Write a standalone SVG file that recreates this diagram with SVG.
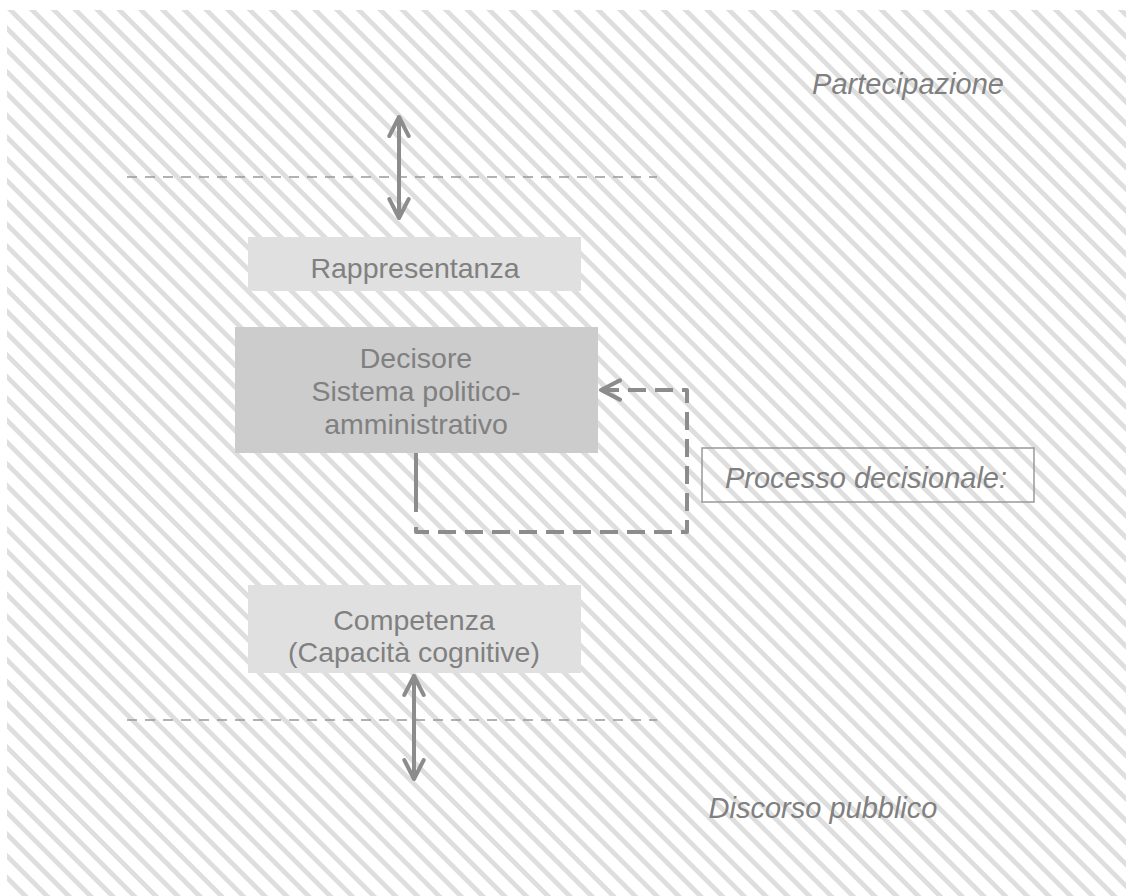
<svg xmlns="http://www.w3.org/2000/svg" width="1126" height="896" viewBox="0 0 1126 896">
  <defs>
    <pattern id="hatch" patternUnits="userSpaceOnUse" width="15.4" height="15.4" patternTransform="translate(7 10) rotate(-45)">
      <rect x="0" y="0" width="4.8" height="15.4" fill="#dedede"/>
    </pattern>
    <marker id="chev" viewBox="0 0 12 12" refX="11" refY="6" markerWidth="5.8" markerHeight="5.8" orient="auto-start-reverse" markerUnits="strokeWidth">
      <path d="M1.2 1 L11 6 L1.2 11" fill="none" stroke="#8c8c8c" stroke-width="2.1" stroke-linecap="round" stroke-linejoin="round"/>
    </marker>
    <style>
      .lbl { font-family: "Liberation Sans", Arial, sans-serif; fill: #808080; text-anchor: middle; font-size: 28.5px; }
      .it { font-style: italic; font-size: 29px; }
      .guide { stroke: #999999; stroke-width: 1.6; stroke-dasharray: 10 8; fill: none; }
      .arr { stroke: #8c8c8c; stroke-width: 4; fill: none; }
      .dflow { stroke: #8c8c8c; stroke-width: 4; fill: none; stroke-dasharray: 18 9; stroke-linejoin: round; }
      .solid { stroke: #8c8c8c; stroke-width: 4; fill: none; }
    </style>
  </defs>

  <rect x="0" y="0" width="1126" height="896" fill="#ffffff"/>
  <rect x="7" y="10" width="1119" height="886" fill="url(#hatch)"/>

  <g id="guides">
    <line class="guide" x1="127" y1="177" x2="657" y2="177"/>
    <line class="guide" x1="127" y1="720" x2="657" y2="720"/>
  </g>

  <g id="connectors">
    <line class="arr" x1="399" y1="117" x2="399" y2="218" marker-start="url(#chev)" marker-end="url(#chev)"/>
    <line class="arr" x1="414" y1="676" x2="414" y2="779" marker-start="url(#chev)" marker-end="url(#chev)"/>
    <line class="solid" x1="416" y1="453" x2="416" y2="512"/>
    <path class="dflow" d="M416 527 L416 532 L687 532 L687 390 L601 390" marker-end="url(#chev)"/>
  </g>

  <g id="rappresentanza">
    <rect x="248" y="237" width="333" height="54" fill="#e0e0e0"/>
    <text class="lbl" x="415" y="278">Rappresentanza</text>
  </g>

  <g id="decisore">
    <rect x="235" y="327" width="363" height="126" fill="#cccccc"/>
    <text class="lbl" x="416" y="368">Decisore</text>
    <text class="lbl" x="416" y="401">Sistema politico-</text>
    <text class="lbl" x="416" y="434">amministrativo</text>
  </g>

  <g id="processo">
    <rect x="702" y="448" width="332" height="54" fill="none" stroke="#999999" stroke-width="1.5"/>
    <text class="lbl it" x="866" y="488">Processo decisionale:</text>
  </g>

  <g id="competenza">
    <rect x="248" y="585" width="333" height="88" fill="#e0e0e0"/>
    <text class="lbl" x="414" y="630">Competenza</text>
    <text class="lbl" x="414" y="662">(Capacità cognitive)</text>
  </g>

  <g id="partecipazione">
    <text class="lbl it" x="908" y="94">Partecipazione</text>
  </g>

  <g id="discorso">
    <text class="lbl it" x="823" y="818">Discorso pubblico</text>
  </g>
</svg>
